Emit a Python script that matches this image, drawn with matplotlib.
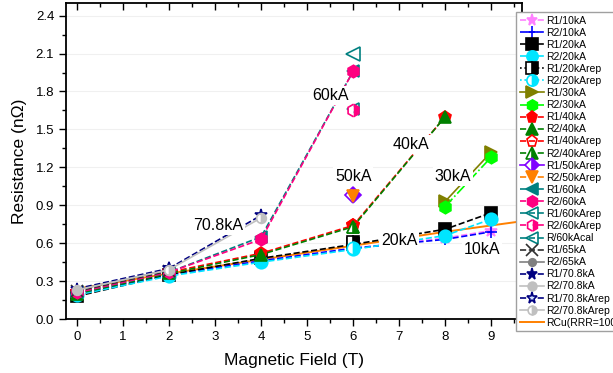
'''
Magnetoresistance of the joint samples versus magnetic field for the
different test currents, with the copper reference curve RCu(RRR=100).
'''

# -----------------------------------------------------------------------------
# Modules

from matplotlib import pyplot as plt
from matplotlib.ticker import MultipleLocator, FormatStrFormatter

plt.rcParams['font.family'] = ['Liberation Sans', 'DejaVu Sans']

# -----------------------------------------------------------------------------
# Data (field in T, resistance in nOhm)

r1_10ka_b = [0, 2, 4, 6, 8, 9]
r1_10ka_r = [0.20, 0.35, 0.46, 0.56, 0.64, 0.70]
r2_10ka_b = [0, 2, 4, 6, 8, 9]
r2_10ka_r = [0.20, 0.35, 0.46, 0.56, 0.63, 0.69]

r1_20ka_b = [0, 2, 4, 6, 8, 9]
r1_20ka_r = [0.18, 0.35, 0.48, 0.59, 0.71, 0.84]
r2_20ka_b = [0, 2, 4, 6, 8, 9]
r2_20ka_r = [0.19, 0.34, 0.45, 0.55, 0.66, 0.79]
r1_20karep_b = [6]
r1_20karep_r = [0.61]
r2_20karep_b = [6]
r2_20karep_r = [0.56]

r1_30ka_b = [8, 9]
r1_30ka_r = [0.93, 1.32]
r2_30ka_b = [8, 9]
r2_30ka_r = [0.89, 1.28]

r1_40ka_b = [0, 2, 4, 6, 8]
r1_40ka_r = [0.21, 0.37, 0.52, 0.74, 1.60]
r2_40ka_b = [0, 2, 4, 6, 8]
r2_40ka_r = [0.20, 0.36, 0.51, 0.73, 1.60]
r1_40karep_b = [6]
r1_40karep_r = [0.74]
r2_40karep_b = [6]
r2_40karep_r = [0.73]

r1_50karep_b = [6]
r1_50karep_r = [0.98]
r2_50karep_b = [6]
r2_50karep_r = [0.97]

r1_60ka_b = [0, 2, 4, 6]
r1_60ka_r = [0.21, 0.37, 0.65, 1.96]
r2_60ka_b = [0, 2, 4, 6]
r2_60ka_r = [0.21, 0.37, 0.63, 1.96]
r1_60karep_b = [6]
r1_60karep_r = [1.66]
r2_60karep_b = [6]
r2_60karep_r = [1.65]
r_60kacal_b = [6]
r_60kacal_r = [2.10]

r1_65ka_b = [0, 2]
r1_65ka_r = [0.22, 0.38]
r2_65ka_b = [0, 2]
r2_65ka_r = [0.23, 0.39]

r1_708ka_b = [0, 2]
r1_708ka_r = [0.24, 0.40]
r2_708ka_b = [0, 2]
r2_708ka_r = [0.23, 0.39]
r1_708karep_b = [2, 4]
r1_708karep_r = [0.40, 0.82]
r2_708karep_b = [2, 4]
r2_708karep_r = [0.39, 0.80]

rcu_b = [0, 2, 4, 6, 8, 9, 10]
rcu_r = [0.24, 0.36, 0.47, 0.58, 0.69, 0.74, 0.79]

# text labels: (field, resistance, text)
current_labels = [(5.5, 1.77, '60kA'), (7.25, 1.38, '40kA'),
                  (6.0, 1.13, '50kA'), (8.17, 1.13, '30kA'),
                  (3.07, 0.74, '70.8kA'), (7.0, 0.62, '20kA'),
                  (8.8, 0.55, '10kA')]

# -----------------------------------------------------------------------------
# Plotting

figure = plt.figure(figsize=(6.13, 3.73), dpi=100)
ax = figure.add_axes([66 / 613, 54 / 373, (522 - 66) / 613, (319 - 3) / 373])

ms = 9


def series(b, r, label, color, marker, ls='--', fill='full', mfc=None,
           size=ms, mec=None):
    ax.plot(b, r, ls=ls, color=color, lw=1.2, marker=marker, ms=size,
            fillstyle=fill, markerfacecolor=mfc if mfc else color,
            markerfacecoloralt='white', markeredgecolor=mec if mec else color,
            markeredgewidth=1.2, label=label, zorder=3)


series(r1_10ka_b, r1_10ka_r, 'R1/10kA', '#ff80ff', '*', mfc='#ff80ff')
series(r2_10ka_b, r2_10ka_r, 'R2/10kA', '#0000ff', '+')
series(r1_20ka_b, r1_20ka_r, 'R1/20kA', 'black', 's')
series(r2_20ka_b, r2_20ka_r, 'R2/20kA', '#00e5ff', 'o')
series(r1_20karep_b, r1_20karep_r, 'R1/20kArep', 'black', 's', ls=':',
       fill='right')
series(r2_20karep_b, r2_20karep_r, 'R2/20kArep', '#00e5ff', 'o', ls=':',
       fill='right')
series(r1_30ka_b, r1_30ka_r, 'R1/30kA', '#808000', '>', ls='-')
series(r2_30ka_b, r2_30ka_r, 'R2/30kA', '#00ff00', 'h', ls='-.')
series(r1_40ka_b, r1_40ka_r, 'R1/40kA', '#ff0000', 'p')
series(r2_40ka_b, r2_40ka_r, 'R2/40kA', '#008000', '^')
series(r1_40karep_b, r1_40karep_r, 'R1/40kArep', '#ff0000', 'p',
       fill='none')
series(r2_40karep_b, r2_40karep_r, 'R2/40kArep', '#008000', '^',
       fill='right')
series(r1_50karep_b, r1_50karep_r, 'R1/50kArep', '#8000ff', 'D', ls='-',
       fill='right', size=8)
series(r2_50karep_b, r2_50karep_r, 'R2/50kArep', '#ff8000', 'v')
series(r1_60ka_b, r1_60ka_r, 'R1/60kA', '#008080', '<')
series(r2_60ka_b, r2_60ka_r, 'R2/60kA', '#ff0080', 'h')
series(r1_60karep_b, r1_60karep_r, 'R1/60kArep', '#008080', '<',
       fill='none')
series(r2_60karep_b, r2_60karep_r, 'R2/60kArep', '#ff0080', 'h',
       fill='right')
series(r_60kacal_b, r_60kacal_r, 'R/60kAcal', '#008080', '<', fill='none',
       size=10)
series(r1_65ka_b, r1_65ka_r, 'R1/65kA', '#303030', 'x')
series(r2_65ka_b, r2_65ka_r, 'R2/65kA', '#808080', 'o', ls='-', size=6)
series(r1_708ka_b, r1_708ka_r, 'R1/70.8kA', '#000080', '*')
series(r2_708ka_b, r2_708ka_r, 'R2/70.8kA', '#c0c0c0', 'o', ls='-', size=7)
series(r1_708karep_b, r1_708karep_r, 'R1/70.8kArep', '#000080', '*',
       mfc='#d0e0ff')
series(r2_708karep_b, r2_708karep_r, 'R2/70.8kArep', '#c0c0c0', 'o', ls='-',
       fill='right', size=7)
ax.plot(rcu_b, rcu_r, '-', color='#ff8000', lw=1.4, label='RCu(RRR=100)',
        zorder=2)

for b, r, text in current_labels:
    ax.text(b, r, text, fontsize=11.5, ha='center', va='center', zorder=4,
            bbox=dict(facecolor='white', edgecolor='none', pad=1.5))

ax.set_xlim(-0.24, 9.67)
ax.set_ylim(0, 2.5)
ax.xaxis.set_major_locator(MultipleLocator(1))
ax.xaxis.set_minor_locator(MultipleLocator(0.5))
ax.yaxis.set_major_locator(MultipleLocator(0.3))
ax.yaxis.set_minor_locator(MultipleLocator(0.15))
ax.yaxis.set_major_formatter(FormatStrFormatter('%.1f'))
ax.tick_params(which='both', direction='out', top=False, right=False,
               labelsize=9.5, width=1)
ax.tick_params(which='major', length=5)
ax.tick_params(which='minor', length=3)
top = ax.secondary_xaxis('top')
top.xaxis.set_major_locator(MultipleLocator(1))
top.xaxis.set_minor_locator(MultipleLocator(0.5))
top.tick_params(which='both', direction='in', labeltop=False, width=1)
top.tick_params(which='major', length=5)
top.tick_params(which='minor', length=3)
for side in ['left', 'bottom', 'top', 'right']:
    ax.spines[side].set_linewidth(1.3)
top.spines['top'].set_visible(False)

ax.grid(True, axis='y', color='#f0f0f0', lw=0.8)
ax.set_axisbelow(True)

ax.set_xlabel('Magnetic Field (T)', fontsize=12.5, labelpad=7)
ax.set_ylabel('Resistance (n\u03a9)', fontsize=12.5, labelpad=6)

figure.legend(loc='upper left', bbox_to_anchor=(516 / 613, 1 - 12 / 373),
              borderaxespad=0, fontsize=7.5, labelspacing=0.2,
              handlelength=2.3, handletextpad=0.2, borderpad=0.35,
              markerscale=0.9, fancybox=False, framealpha=1,
              edgecolor='#a0a0a0')

figure.savefig('out.png', dpi=100)
